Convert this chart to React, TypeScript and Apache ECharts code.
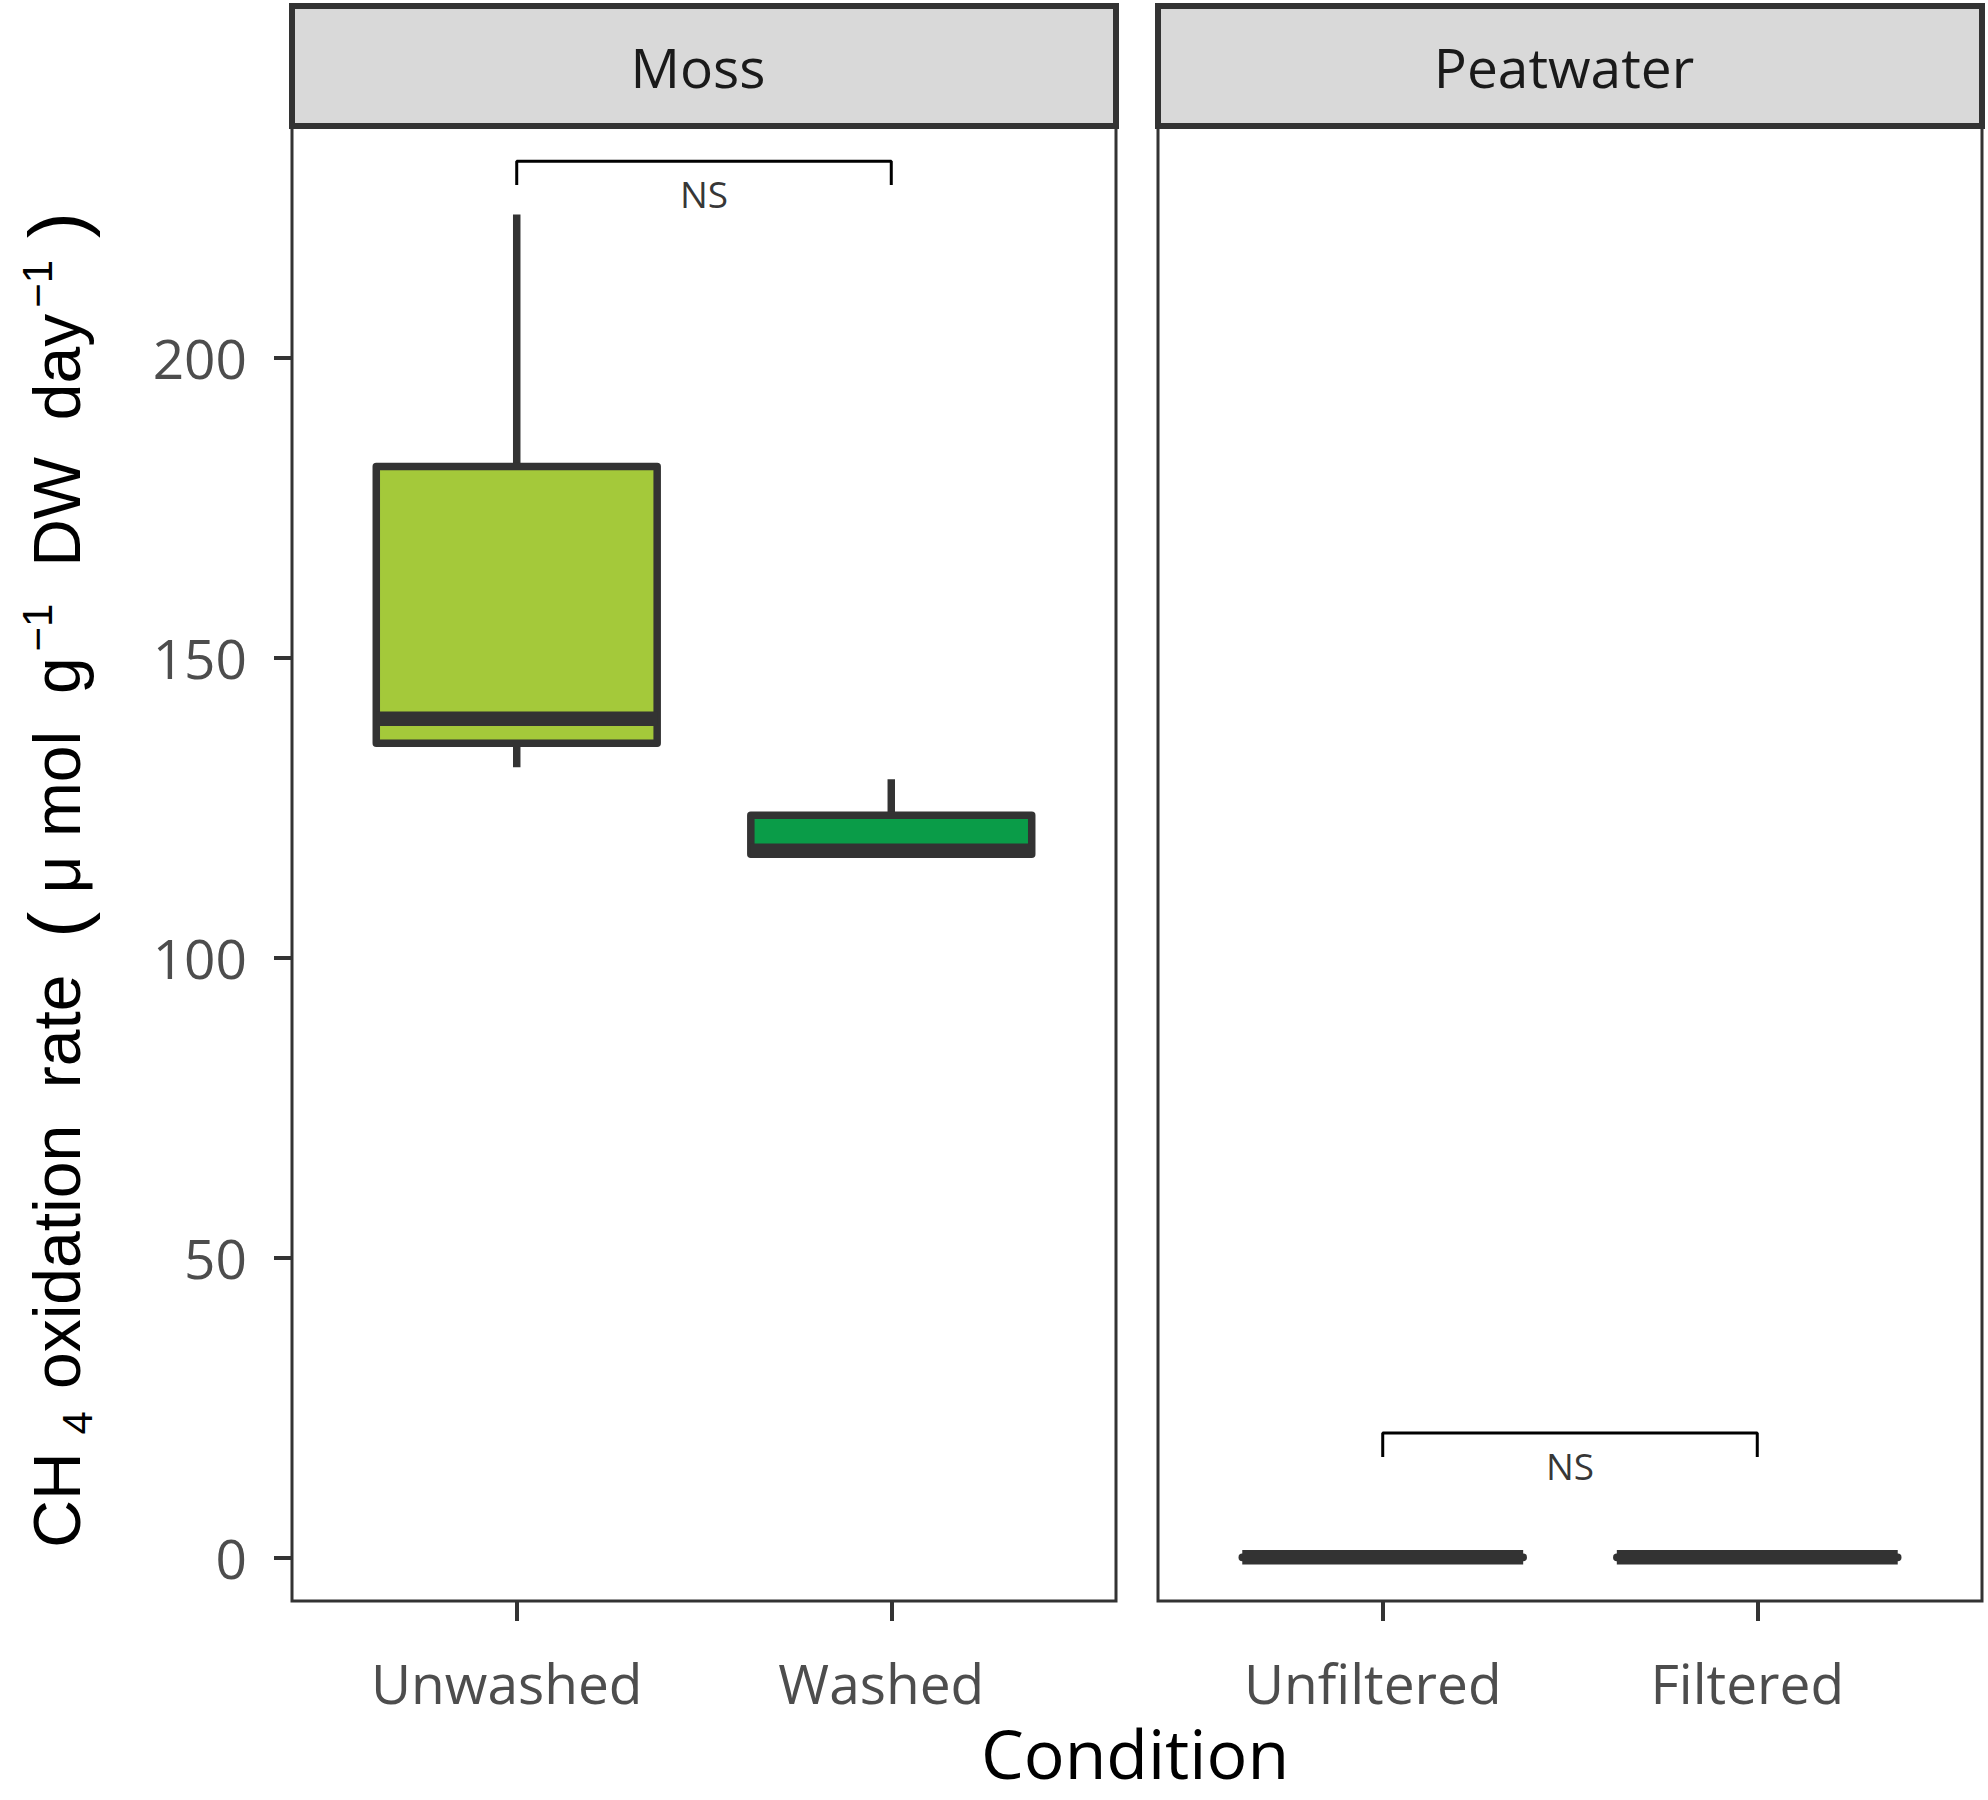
import React, { useEffect, useRef } from "react";
import * as echarts from "echarts";

// ---- data ----
const panelNames = ["Moss", "Peatwater"];
const mossCategories = ["Unwashed", "Washed"];
const peatCategories = ["Unfiltered", "Filtered"];
// each box: [lower whisker, Q1, median, Q3, upper whisker]
const mossBoxes = [
  [131.7, 135.7, 139.8, 181.8, 223.8],
  [117.2, 117.2, 117.8, 123.7, 129.7],
];
const peatBoxes = [
  [0.0, 0.02, 0.04, 0.06, 0.1],
  [0.0, 0.01, 0.03, 0.05, 0.08],
];
const mossColors = ["#a4c93a", "#0a9c48"];
const peatColors = ["#f8766d", "#00bfc4"];
const yTicks = [0, 50, 100, 150, 200];
const xPositions = [1, 2];
// significance brackets: [x1, x2, top, legBottom, labelY]
const mossBracket = [1, 2, 232.7, 228.75, 227.3];
const peatBracket = [1, 2, 20.75, 16.75, 15.4];
const bracketLabel = "NS";

const Y_MIN = -7.25;
const Y_MAX = 238.4;
const X_MIN = 0.4;
const X_MAX = 2.6;

const DARK = "#333333";
const TICK_LABEL = "#4d4d4d";
const FONT = "Open Sans";

function boxSeries(boxes: number[][], colors: string[], idx: number) {
  return {
    type: "custom",
    xAxisIndex: idx,
    yAxisIndex: idx,
    z: 3,
    data: boxes.map((b, i) => [xPositions[i], ...b]),
    renderItem: (params: any, api: any) => {
      const x = api.value(0);
      const lo = api.value(1);
      const q1 = api.value(2);
      const med = api.value(3);
      const q3 = api.value(4);
      const hi = api.value(5);
      const hw = 0.375;
      const tl = api.coord([x - hw, q3]);
      const br = api.coord([x + hw, q1]);
      const pHi = api.coord([x, hi]);
      const pLo = api.coord([x, lo]);
      const mL = api.coord([x - hw, med]);
      const mR = api.coord([x + hw, med]);
      const color = colors[params.dataIndex];
      return {
        type: "group",
        children: [
          {
            type: "line",
            shape: { x1: pHi[0], y1: pHi[1], x2: pHi[0], y2: tl[1] },
            style: { stroke: DARK, lineWidth: 7.5 },
          },
          {
            type: "line",
            shape: { x1: pLo[0], y1: pLo[1], x2: pLo[0], y2: br[1] },
            style: { stroke: DARK, lineWidth: 7.5 },
          },
          {
            type: "rect",
            shape: { x: tl[0], y: tl[1], width: br[0] - tl[0], height: br[1] - tl[1] },
            style: { fill: color, stroke: DARK, lineWidth: 7.5, lineJoin: "round" },
          },
          {
            type: "line",
            shape: { x1: mL[0], y1: mL[1], x2: mR[0], y2: mR[1] },
            style: { stroke: DARK, lineWidth: 14.5 },
          },
        ],
      };
    },
  };
}

function bracketSeries(b: number[], idx: number) {
  return [
    {
      type: "line",
      xAxisIndex: idx,
      yAxisIndex: idx,
      symbol: "none",
      z: 4,
      lineStyle: { color: "#000000", width: 3 },
      data: [
        [b[0], b[3]],
        [b[0], b[2]],
        [b[1], b[2]],
        [b[1], b[3]],
      ],
    },
    {
      type: "scatter",
      xAxisIndex: idx,
      yAxisIndex: idx,
      symbolSize: 0.1,
      itemStyle: { color: "transparent" },
      z: 4,
      label: {
        show: true,
        position: "inside",
        formatter: bracketLabel,
        color: "#000000",
        fontFamily: FONT,
        fontSize: 37,
      },
      data: [[(b[0] + b[1]) / 2, b[4]]],
    },
  ];
}

function xAxisFor(idx: number, cats: string[]) {
  return {
    type: "value",
    gridIndex: idx,
    min: X_MIN,
    max: X_MAX,
    position: "bottom",
    axisLine: { show: false, onZero: false },
    splitLine: { show: false },
    axisTick: {
      show: true,
      inside: false,
      customValues: xPositions,
      length: 20,
      lineStyle: { color: DARK, width: 4 },
    },
    axisLabel: {
      show: true,
      customValues: xPositions,
      margin: 54,
      padding: [0, 20, 0, 0],
      color: TICK_LABEL,
      fontFamily: FONT,
      fontSize: 55,
      formatter: (v: number) => cats[Math.round(v) - 1] ?? "",
    },
  };
}

function yAxisFor(idx: number, showTicks: boolean) {
  return {
    type: "value",
    gridIndex: idx,
    min: Y_MIN,
    max: Y_MAX,
    position: "left",
    axisLine: { show: false, onZero: false },
    splitLine: { show: false },
    axisTick: {
      show: showTicks,
      customValues: yTicks,
      length: 18,
      lineStyle: { color: DARK, width: 4 },
    },
    axisLabel: {
      show: showTicks,
      customValues: yTicks,
      margin: 45,
      color: TICK_LABEL,
      fontFamily: FONT,
      fontSize: 55,
    },
  };
}

const GRID_TOP = 127;
const GRID_H = 1474;
const GRID_W = 824;
const GRID_LEFTS = [292, 1158];

export default function App() {
  const ref = useRef<HTMLDivElement>(null);
  useEffect(() => {
    if (!ref.current) return;
    const chart = echarts.init(ref.current, null, { renderer: "svg" });
    const strips = GRID_LEFTS.map((left, i) => ({
      type: "group",
      z: 10,
      children: [
        {
          type: "rect",
          shape: { x: left, y: 6, width: GRID_W, height: 120 },
          style: { fill: "#d9d9d9", stroke: DARK, lineWidth: 6 },
          z: 10,
        },
        {
          type: "text",
          x: left + GRID_W / 2 - 6,
          y: 66,
          z: 11,
          style: {
            text: panelNames[i],
            fill: "#1a1a1a",
            fontFamily: FONT,
            fontSize: 55,
            align: "center",
            verticalAlign: "middle",
          },
        },
      ],
    }));
    const option: any = {
      animation: false,
      backgroundColor: "#ffffff",
      textStyle: { fontFamily: FONT },
      grid: GRID_LEFTS.map((left) => ({
        left,
        top: GRID_TOP,
        width: GRID_W,
        height: GRID_H,
        show: true,
        backgroundColor: "#ffffff",
        borderColor: DARK,
        borderWidth: 3,
      })),
      xAxis: [xAxisFor(0, mossCategories), xAxisFor(1, peatCategories)],
      yAxis: [yAxisFor(0, true), yAxisFor(1, false)],
      series: [
        boxSeries(mossBoxes, mossColors, 0),
        boxSeries(peatBoxes, peatColors, 1),
        ...bracketSeries(mossBracket, 0),
        ...bracketSeries(peatBracket, 1),
      ],
      graphic: [
        ...strips,
        {
          type: "text",
          x: 1135,
          y: 1752,
          style: {
            text: "Condition",
            fill: "#000000",
            fontFamily: FONT,
            fontSize: 68,
            lineHeight: 60,
            align: "center",
            verticalAlign: "middle",
          },
        },
        {
          type: "text",
          x: 57,
          y: 880,
          rotation: Math.PI / 2,
          style: {
            text:
              "{m|CH}{sub|4}{m|oxidation  rate  }{p|(}{m| μ mol  g}{sup|−1}{m|  DW  day}{sup|−1}{p| )}",
            fill: "#000000",
            align: "center",
            verticalAlign: "middle",
            rich: {
              m: { fontFamily: "Liberation Sans", fontSize: 66, lineHeight: 82, fill: "#000000" },
              p: { fontFamily: "Liberation Sans", fontSize: 78, lineHeight: 82, fill: "#000000" },
              sub: {
                fontFamily: "Liberation Sans",
                fontSize: 42,
                lineHeight: 44,
                verticalAlign: "bottom",
                padding: [0, 22, 0, 18],
                fill: "#000000",
              },
              sup: {
                fontFamily: "Liberation Sans",
                fontSize: 42,
                lineHeight: 42,
                verticalAlign: "top",
                padding: [0, 0, 0, 6],
                fill: "#000000",
              },
            },
          },
        },
      ],
    };
    chart.setOption(option);
    return () => chart.dispose();
  }, []);
  return (
    <div
      ref={ref}
      style={{ position: "absolute", left: 0, top: 0, width: 1988, height: 1800 }}
    />
  );
}
